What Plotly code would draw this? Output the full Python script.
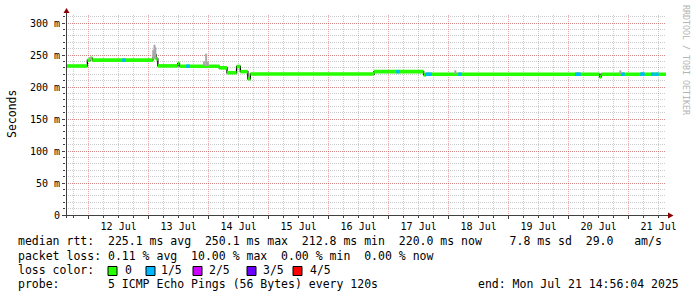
import plotly.graph_objects as go

# ---------------- data ----------------
start_time = "2025-07-11 14:56:04"
end_time = "2025-07-21 14:56:04"

# median rtt (ms) step breakpoints
med_t = ["2025-07-11 14:56", "2025-07-11 23:30", "2025-07-12 00:40", "2025-07-12 01:30",
         "2025-07-13 01:40", "2025-07-13 02:20", "2025-07-13 03:00", "2025-07-13 03:40",
         "2025-07-13 11:40", "2025-07-13 12:20", "2025-07-14 04:10", "2025-07-14 07:20",
         "2025-07-14 11:10", "2025-07-14 12:40", "2025-07-14 15:40", "2025-07-14 16:40",
         "2025-07-16 18:10", "2025-07-17 14:00", "2025-07-17 15:00", "2025-07-20 12:20",
         "2025-07-20 13:00", "2025-07-21 14:56"]
med_v = [232.8, 242.0, 245.0, 242.0,
         246.0, 250.1, 244.0, 233.0,
         237.0, 232.5, 230.0, 222.3,
         232.0, 224.0, 212.8, 220.3,
         224.0, 219.0, 220.0, 216.0,
         220.0, 220.0]

# smoke (ping spread) spikes
smoke_t = ["2025-07-12 00:40", "2025-07-13 01:50", "2025-07-13 02:20", "2025-07-13 02:40",
           "2025-07-13 22:10", "2025-07-13 23:00", "2025-07-13 23:40", "2025-07-18 02:40",
           "2025-07-20 20:40"]
smoke_lo = [242, 244, 246, 244, 233, 233, 233, 220, 220]
smoke_hi = [247, 258, 266, 262, 240, 252, 240, 226, 226]

# samples with 1/5 packet loss
loss1_t = ["2025-07-12 14:07", "2025-07-13 15:43", "2025-07-17 03:43", "2025-07-17 15:19",
           "2025-07-17 16:31", "2025-07-18 04:31", "2025-07-20 03:19", "2025-07-20 04:07",
           "2025-07-20 21:43", "2025-07-21 05:19", "2025-07-21 05:43", "2025-07-21 09:43",
           "2025-07-21 11:19"]
loss1_v = [242, 232.5, 224, 220, 220, 220, 220, 220, 220, 220, 220, 220, 220]

day_tick_pos = ["2025-07-12 12:00", "2025-07-13 12:00", "2025-07-14 12:00", "2025-07-15 12:00",
                "2025-07-16 12:00", "2025-07-17 12:00", "2025-07-18 12:00", "2025-07-19 12:00",
                "2025-07-20 12:00", "2025-07-21 12:00"]
day_tick_labels = ["12 Jul", "13 Jul", "14 Jul", "15 Jul", "16 Jul",
                   "17 Jul", "18 Jul", "19 Jul", "20 Jul", "21 Jul"]

y_tick_vals = [0, 50, 100, 150, 200, 250, 300]
y_tick_labels = ["0", "50 m", "100 m", "150 m", "200 m", "250 m", "300 m"]

loss_labels = ["0", "1/5", "2/5", "3/5", "4/5"]
loss_colors = ["#26ff00", "#00b8ff", "#cc00ff", "#6a00ff", "#ff0000"]

legend_rtt = "median rtt:  225.1 ms avg  250.1 ms max  212.8 ms min  220.0 ms now    7.8 ms sd  29.0   am/s"
legend_loss = "packet loss: 0.11 % avg  10.00 % max  0.00 % min  0.00 % now"
legend_probe = "probe:       5 ICMP Echo Pings (56 Bytes) every 120s"
legend_end = "end: Mon Jul 21 14:56:04 2025"

# ---------------- geometry helpers ----------------
W, H = 697, 297
L, R, T, B = 66, 31, 15, 82
PW, PH = W - L - R, H - T - B
MONO = "DejaVu Sans Mono"


def px(x):
    return (x - L) / PW


def py(y):
    return (T + PH - y) / PH


fig = go.Figure()

# smoke
sx, sy = [], []
for t, lo, hi in zip(smoke_t, smoke_lo, smoke_hi):
    sx += [t, t, None]
    sy += [lo, hi, None]
fig.add_trace(go.Scatter(x=sx, y=sy, mode="lines", xaxis="x2",
                         line=dict(color="#a8a8a8", width=2), hoverinfo="skip"))

# black median step line
fig.add_trace(go.Scatter(x=med_t, y=med_v, mode="lines", line_shape="hv",
                         line=dict(color="#000000", width=1.3), hoverinfo="skip"))

# green (0 loss) horizontal segments
gx, gy = [], []
for i in range(len(med_t) - 1):
    gx += [med_t[i], med_t[i + 1], None]
    gy += [med_v[i], med_v[i], None]
fig.add_trace(go.Scatter(x=gx, y=gy, mode="lines",
                         line=dict(color=loss_colors[0], width=3.6), hoverinfo="skip"))

# 1/5 loss samples
fig.add_trace(go.Scatter(x=loss1_t, y=loss1_v, mode="markers",
                         marker=dict(symbol="square", size=3.5, color=loss_colors[1],
                                     line=dict(width=0)), hoverinfo="skip"))

major_grid = "rgba(215,60,60,0.45)"
minor_grid = "rgba(140,140,140,0.45)"

fig.update_layout(
    width=W, height=H,
    margin=dict(l=L, r=R, t=T, b=B, pad=0),
    paper_bgcolor="#ffffff", plot_bgcolor="#ffffff",
    showlegend=False,
    font=dict(family=MONO, size=10, color="#000000"),
    xaxis=dict(type="date", range=[start_time, end_time],
               tick0="2025-07-12", dtick=86400000,
               showgrid=True, gridcolor=major_grid, griddash="1px,1px", gridwidth=1,
               showticklabels=False, ticks="outside", ticklen=3, tickcolor="#404040",
               minor=dict(dtick=21600000, tick0="2025-07-12", showgrid=True,
                          gridcolor=minor_grid, griddash="1px,1px", ticks="outside",
                          ticklen=2, tickcolor="#404040"),
               zeroline=False, showline=False, fixedrange=True),
    xaxis2=dict(type="date", range=[start_time, end_time], overlaying="x", anchor="y",
                side="bottom", tickvals=day_tick_pos, ticktext=day_tick_labels,
                showgrid=False, ticks="", zeroline=False, showline=False,
                ticklabelstandoff=4,
                tickfont=dict(family=MONO, size=10, color="#000000")),
    yaxis=dict(range=[0, 312.5], tickvals=y_tick_vals, ticktext=y_tick_labels,
               showgrid=True, gridcolor=major_grid, griddash="1px,1px",
               ticks="outside", ticklen=3, tickcolor="#404040",
               minor=dict(dtick=10, showgrid=True, gridcolor=minor_grid,
                          griddash="1px,1px", ticks="outside", ticklen=2,
                          tickcolor="#404040"),
               zeroline=False, showline=False,
               tickfont=dict(family=MONO, size=10, color="#000000")),
)

# axis lines and arrows
shapes = [
    dict(type="line", xref="paper", yref="paper", x0=px(66.5), x1=px(66.5),
         y0=py(218), y1=py(12), line=dict(color="#404040", width=1)),
    dict(type="line", xref="paper", yref="paper", x0=px(62), x1=px(669),
         y0=py(215.5), y1=py(215.5), line=dict(color="#404040", width=1)),
    dict(type="path", xref="paper", yref="paper",
         path=f"M {px(63.5)} {py(13)} L {px(69.5)} {py(13)} L {px(66.5)} {py(8)} Z",
         fillcolor="#8b0000", line=dict(width=0)),
    dict(type="path", xref="paper", yref="paper",
         path=f"M {px(668)} {py(212.5)} L {px(668)} {py(218.5)} L {px(673.5)} {py(215.5)} Z",
         fillcolor="#8b0000", line=dict(width=0)),
]

# legend color boxes
box_x = [108, 146, 193, 247, 293]
lab_x = [124, 160, 208, 262, 309]
for bx, c in zip(box_x, loss_colors):
    shapes.append(dict(type="rect", xref="paper", yref="paper",
                       x0=px(bx), x1=px(bx + 9), y0=py(275.5), y1=py(266.5),
                       fillcolor=c, line=dict(color="#000000", width=1)))
fig.update_layout(shapes=shapes)

ann = []


def text(x, y, s, size=11.5, color="#000000", anchor="left"):
    ann.append(dict(x=px(x - 1 if anchor == "left" else x + 1), y=py(y),
                    xref="paper", yref="paper", text=s.replace(" ", "&nbsp;"),
                    showarrow=False, xanchor=anchor, yanchor="middle",
                    font=dict(family=MONO, size=size, color=color)))


# legend lines
text(16.5, 241, legend_rtt)
text(16.5, 255.5, legend_loss)
text(16.5, 269.5, "loss color:")
for x, s in zip(lab_x, loss_labels):
    text(x, 269.5, s)
text(16.5, 283.5, legend_probe)
text(680, 283.5, legend_end, anchor="right")

# y axis title
ann.append(dict(x=px(12), y=py(114), xref="paper", yref="paper", text="Seconds",
                showarrow=False, textangle=-90, xanchor="center", yanchor="middle",
                font=dict(family=MONO, size=11.5, color="#000000")))
# watermark
ann.append(dict(x=px(686), y=py(60), xref="paper", yref="paper",
                text="RRDTOOL / TOBI OETIKER", showarrow=False, textangle=90,
                xanchor="center", yanchor="middle",
                font=dict(family=MONO, size=8.3, color="#b4b4b4")))
fig.update_layout(annotations=ann)

fig.write_html("out.html")
